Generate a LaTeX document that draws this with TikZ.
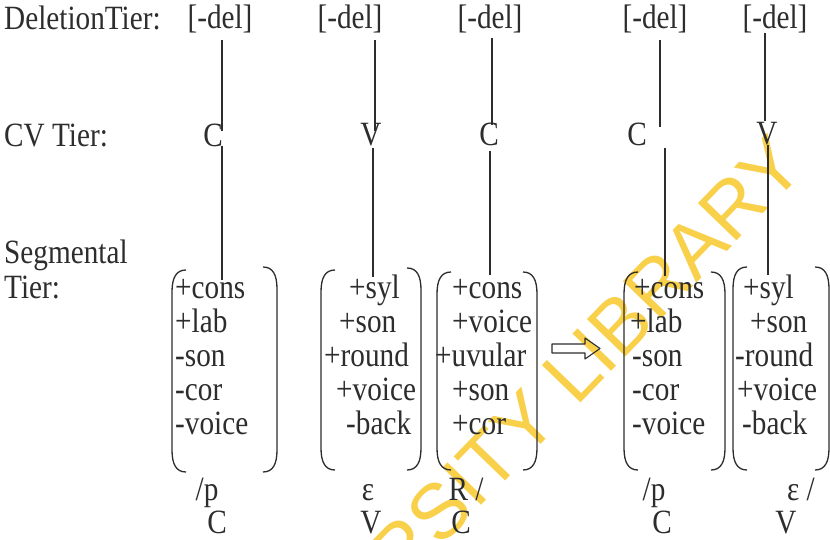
\documentclass[tikz,border=0pt]{standalone}
\usepackage{fontspec}
\setmainfont{Liberation Serif}[FakeStretch=0.86]
\newfontfamily\wmfont{Liberation Sans}
\usetikzlibrary{calc}
\definecolor{ink}{RGB}{45,45,45}
\definecolor{wmcol}{RGB}{249,203,55}
\tikzset{
  txt/.style={inner sep=0pt, text=ink, font=\fontsize{34}{38}\selectfont},
  feat/.style={txt, anchor=base west},
  tie/.style={draw=ink, line width=1.1pt},
  paren/.style={draw=ink, line width=1.3pt},
  wm/.style={inner sep=0pt, text=wmcol, opacity=0.9, font=\wmfont\fontsize{78}{78}\selectfont}
}
\newcommand{\lpar}[3]{\draw[paren] (#1+14,#2) .. controls (#1+4,#2) and (#1,#2+8) .. (#1,#2+22) -- (#1,#3-22) .. controls (#1,#3-8) and (#1+4,#3) .. (#1+14,#3);}
\newcommand{\rpar}[3]{\draw[paren] (#1-14,#2) .. controls (#1-4,#2) and (#1,#2+8) .. (#1,#2+22) -- (#1,#3-22) .. controls (#1,#3-8) and (#1-4,#3) .. (#1-14,#3);}
\begin{document}
\begin{tikzpicture}[x=1pt,y=-1pt]
\useasboundingbox (0,0) rectangle (830,540);
\fill[white] (0,0) rectangle (830,540);
% watermark
\begin{scope}
\clip (0,0) rectangle (830,540);
\node[wm, rotate=46, anchor=east] (wmark) at (788,150) {UNIVERSITY LIBRARY};
\end{scope}
% tier labels
\node[txt, anchor=base west] (dl) at (4,30) {DeletionTier:};
\node[txt, anchor=base west] (cvl) at (4,147) {CV Tier:};
\node[txt, anchor=base west] (sl1) at (4,263) {Segmental};
\node[txt, anchor=base west] (sl2) at (4,298) {Tier:};
% deletion tier
\node[txt, anchor=base] (d1) at (220,29) {[-del]};
\node[txt, anchor=base] (d2) at (350,29) {[-del]};
\node[txt, anchor=base] (d3) at (490,29) {[-del]};
\node[txt, anchor=base] (d4) at (655,29) {[-del]};
\node[txt, anchor=base] (d5) at (775,29) {[-del]};
% CV tier
\node[txt, anchor=base] (c1) at (213,147) {C};
\node[txt, anchor=base] (c2) at (371,146) {V};
\node[txt, anchor=base] (c3) at (489,146) {C};
\node[txt, anchor=base] (c4) at (637,146) {C};
\node[txt, anchor=base] (c5) at (767,145) {V};
% matrix 1
\node[feat] (m1a) at (175,298) {+cons};
\node[feat] (m1b) at (175,332) {+lab};
\node[feat] (m1c) at (175,366) {-son};
\node[feat] (m1d) at (175,400) {-cor};
\node[feat] (m1e) at (175,434) {-voice};
% matrix 2
\node[feat] (m2a) at (349,298) {+syl};
\node[feat] (m2b) at (339,332) {+son};
\node[feat] (m2c) at (324,366) {+round};
\node[feat] (m2d) at (336,400) {+voice};
\node[feat] (m2e) at (346,434) {-back};
% matrix 3
\node[feat] (m3a) at (452,298) {+cons};
\node[feat] (m3b) at (452,332) {+voice};
\node[feat] (m3c) at (435,366) {+uvular};
\node[feat] (m3d) at (452,400) {+son};
\node[feat] (m3e) at (452,434) {+cor};
% matrix 4
\node[feat] (m4a) at (634,298) {+cons};
\node[feat] (m4b) at (630,332) {+lab};
\node[feat] (m4c) at (632,366) {-son};
\node[feat] (m4d) at (632,400) {-cor};
\node[feat] (m4e) at (632,434) {-voice};
% matrix 5
\node[feat] (m5a) at (743,298) {+syl};
\node[feat] (m5b) at (750,332) {+son};
\node[feat] (m5c) at (735,366) {-round};
\node[feat] (m5d) at (737,400) {+voice};
\node[feat] (m5e) at (742,434) {-back};
% brackets
\lpar{172}{270}{472} \rpar{277}{267}{472}
\lpar{321}{270}{470} \rpar{421}{268}{470}
\lpar{437}{272}{470} \rpar{537}{272}{470}
\lpar{624}{272}{470} \rpar{725}{272}{470}
\lpar{733}{267}{470} \rpar{829}{267}{470}
% association lines
\draw[tie] (222,40) -- (222,131);
\draw[tie] (222,146) -- (222,280);
\draw[tie] (375,40) -- (375,131);
\draw[tie] (373,148) -- (373,277);
\draw[tie] (492,38) -- (492,125);
\draw[tie] (490,151) -- (490,275);
\draw[tie] (660,40) -- (660,127);
\draw[tie] (665,148) -- (665,276);
\draw[tie] (765,33) -- (765,121);
\draw[tie] (768,145) -- (768,275);
% rule arrow
\draw[draw=ink, line width=1.1pt, line join=round] (552,344) -- (585,344) -- (585,338) -- (600,348.5) -- (585,359) -- (585,353) -- (552,353) -- cycle;
% bottom transcription
\node[txt, anchor=base] (b1) at (207,500) {/p};
\node[txt, anchor=base] (e1) at (217,533) {C};
\node[txt, anchor=base] (b2) at (368,500) {ε};
\node[txt, anchor=base] (e2) at (371,533) {V};
\node[txt, anchor=base] (b3) at (466,500) {R /};
\node[txt, anchor=base] (e3) at (461,533) {C};
\node[txt, anchor=base] (b4) at (654,500) {/p};
\node[txt, anchor=base] (e4) at (662,533) {C};
\node[txt, anchor=base] (b5) at (801,500) {ε /};
\node[txt, anchor=base] (e5) at (786,533) {V};
\end{tikzpicture}
\end{document}
